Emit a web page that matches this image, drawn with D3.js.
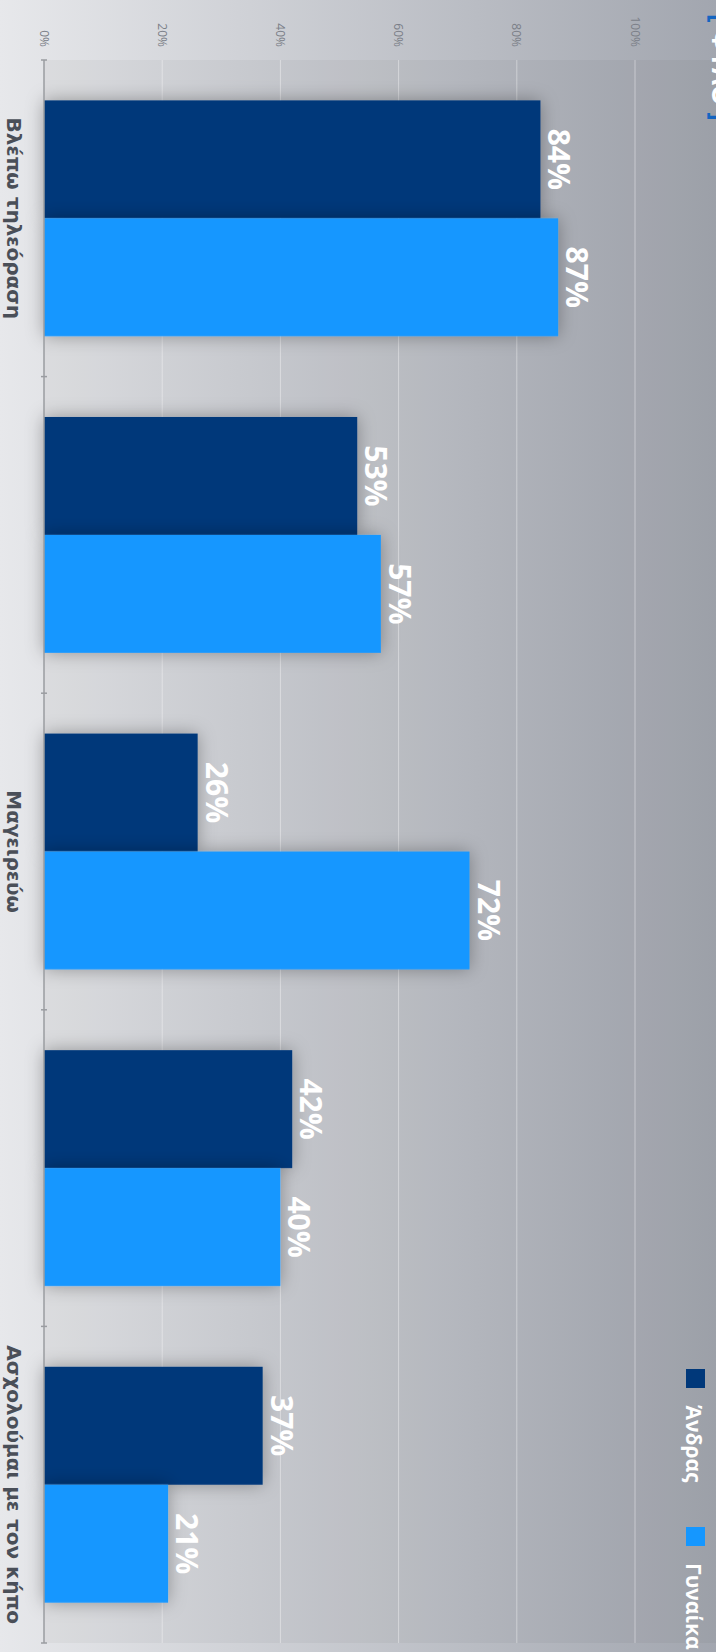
<!DOCTYPE html>
<html>
<head>
<meta charset="utf-8">
<script src="https://cdn.jsdelivr.net/npm/d3@7"></script>
<style>
  body { margin: 0; overflow: hidden; }
  svg { display: block; font-family: 'Open Sans', sans-serif; }
</style>
</head>
<body>
<svg id="chart"></svg>
<script>
// Data
const categories = ['Βλέπω τηλεόραση', '', 'Μαγειρεύω', '', 'Ασχολούμαι με τον κήπο']
const seriesNames = ['Άνδρας', 'Γυναίκα']
const men = [84, 53, 26, 42, 37]
const women = [87, 57, 72, 40, 21]
const yTicks = [0, 20, 40, 60, 80, 100]
const title = 'ΦΥΛΟ'

const colours = ['#00387a', '#1597ff']
const W = 1652 // chart is drawn landscape then turned a quarter clockwise
const H = 716

const svg = d3.select('#chart').attr('width', H).attr('height', W)
const defs = svg.append('defs')

const grad = defs.append('linearGradient').attr('id', 'bg')
  .attr('x1', 0).attr('y1', 0).attr('x2', 0).attr('y2', 1)
grad.append('stop').attr('offset', '0%').attr('stop-color', '#a2a6af')
grad.append('stop').attr('offset', '100%').attr('stop-color', '#e7e8eb')

const shadow = defs.append('filter').attr('id', 'shadow')
  .attr('x', '-30%').attr('y', '-30%').attr('width', '160%').attr('height', '160%')
shadow.append('feDropShadow').attr('dx', 0).attr('dy', 0)
  .attr('stdDeviation', 9).attr('flood-color', '#000').attr('flood-opacity', 0.32)

const g = svg.append('g').attr('transform', `translate(${H},0) rotate(90)`)

g.append('rect').attr('width', W).attr('height', H).attr('fill', 'url(#bg)')

// Scales
const x = d3.scaleBand().domain(d3.range(categories.length))
  .range([60, 1643]).paddingInner(0.255).paddingOuter(0.1275)
const xs = d3.scaleBand().domain([0, 1]).range([0, x.bandwidth()])
const y = d3.scaleLinear().domain([0, 100]).range([672, 81])

// Plot area
g.append('rect').attr('x', 60).attr('y', 0).attr('width', 1643 - 60).attr('height', y(0))
  .attr('fill', 'rgba(0,0,0,0.035)')

// Grid
g.selectAll('.grid').data(yTicks.slice(1)).join('line')
  .attr('x1', 60).attr('x2', 1643)
  .attr('y1', d => y(d)).attr('y2', d => y(d))
  .attr('stroke', 'rgba(255,255,255,0.4)').attr('stroke-width', 1)

// Y axis labels
const yAxis = g.append('g').attr('transform', 'translate(60,0)')
  .call(d3.axisLeft(y).tickValues(yTicks).tickFormat(d => d + '%').tickSize(0).tickPadding(13))
yAxis.select('.domain').remove()
yAxis.selectAll('text').attr('fill', '#7b7f88').attr('font-size', 12)
  .attr('font-family', "'Open Sans', sans-serif")

// Bars
const rows = categories.map((c, i) => ({ i, values: [men[i], women[i]] }))
const groups = g.selectAll('.grp').data(rows).join('g')
  .attr('transform', d => `translate(${x(d.i)},0)`)

groups.selectAll('rect').data(d => d.values.map((v, k) => ({ v, k }))).join('rect')
  .attr('x', d => xs(d.k)).attr('width', xs.bandwidth())
  .attr('y', d => y(d.v)).attr('height', d => y(0) - y(d.v))
  .attr('fill', d => colours[d.k])
  .attr('filter', 'url(#shadow)')

groups.selectAll('text').data(d => d.values.map((v, k) => ({ v, k }))).join('text')
  .attr('x', d => xs(d.k) + xs.bandwidth() / 2)
  .attr('y', d => y(d.v) - 8)
  .attr('text-anchor', 'middle')
  .attr('fill', '#fff').attr('font-weight', 700).attr('font-size', 30)
  .text(d => d.v + '%')

// Category axis
g.append('line').attr('x1', 60).attr('x2', 1643).attr('y1', y(0)).attr('y2', y(0))
  .attr('stroke', '#9a9ca1').attr('stroke-width', 1.5)
g.selectAll('.tick-c').data(d3.range(categories.length + 1)).join('line')
  .attr('x1', d => 60 + d * x.step()).attr('x2', d => 60 + d * x.step())
  .attr('y1', y(0) - 3).attr('y2', y(0) + 3)
  .attr('stroke', '#9a9ca1').attr('stroke-width', 1.5)
g.selectAll('.cat').data(categories).join('text')
  .attr('x', (d, i) => x(i) + x.bandwidth() / 2)
  .attr('y', 709)
  .attr('text-anchor', 'middle')
  .attr('fill', '#4a4f58').attr('font-weight', 700).attr('font-size', 20)
  .attr('font-family', "'DejaVu Sans', sans-serif")
  .text(d => d)

// Legend
const legendX = [1369, 1527]
const legend = g.selectAll('.legend').data(seriesNames).join('g')
  .attr('transform', (d, i) => `translate(${legendX[i]},11)`)
legend.append('rect').attr('width', 19).attr('height', 19).attr('fill', (d, i) => colours[i])
legend.append('text').attr('x', 36).attr('y', 19)
  .attr('fill', '#fff').attr('font-weight', 700).attr('font-size', 21)
  .text(d => d)

// Title, mostly off the top edge as in the source
const t = g.append('text').attr('x', 14).attr('y', 4)
  .attr('font-weight', 700).attr('font-size', 26)
t.append('tspan').attr('fill', '#1565c0').text('[ ')
t.append('tspan').attr('fill', '#fff').text(title)
t.append('tspan').attr('fill', '#1565c0').text(' ]')
</script>
</body>
</html>
